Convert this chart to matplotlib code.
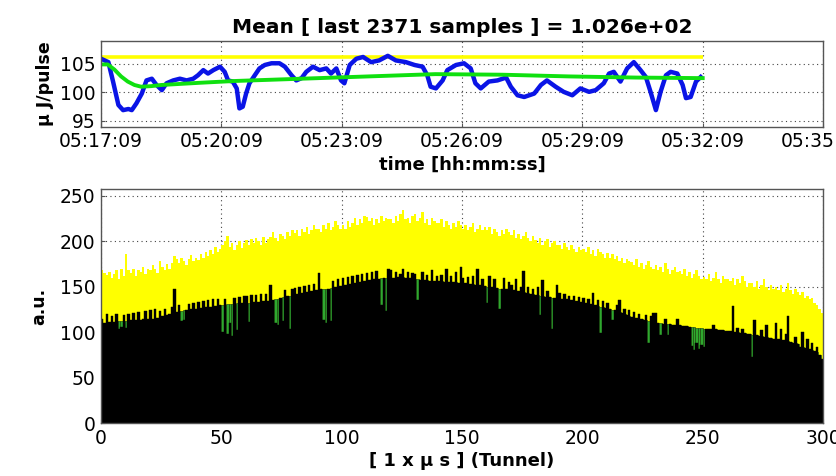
import numpy as np
import matplotlib
matplotlib.use('Agg')
import matplotlib.pyplot as plt

# ---- top panel: pulse energy vs time (seconds after 05:17:09) ----
time_ticks = [0, 180, 360, 540, 720, 900, 1080]
time_labels = ['05:17:09', '05:20:09', '05:23:09', '05:26:09',
               '05:29:09', '05:32:09', '05:35:09']

t_pulse = [0, 11, 18, 26, 33, 41, 46, 53, 61, 68, 76, 83, 91, 98, 108, 118,
           128, 138, 145, 153, 160, 168, 178, 185, 190, 197, 203, 207, 212,
           217, 222, 230, 237, 245, 255, 267, 275, 285, 292, 300, 307, 317,
           327, 337, 344, 352, 359, 364, 372, 382, 392, 404, 416, 429, 441,
           456, 469, 481, 488, 493, 501, 511, 518, 531, 543, 553, 560, 568,
           580, 593, 606, 613, 623, 633, 648, 658, 667, 680, 692, 705, 717,
           730, 740, 752, 760, 767, 777, 787, 797, 807, 815, 822, 830, 837,
           845, 852, 862, 870, 875, 882, 890, 897]
pulse = [105.9, 105.3, 101.9, 97.8, 96.9, 97.1, 96.9, 98.1, 99.8, 102.1,
         102.4, 101.3, 100.4, 101.6, 102.1, 102.4, 102.1, 102.4, 103.0, 103.9,
         103.3, 103.9, 104.5, 103.6, 102.1, 101.9, 100.7, 97.2, 97.5, 99.8,
         101.6, 103.0, 104.2, 104.8, 105.1, 105.1, 104.5, 103.0, 102.1, 102.5,
         103.6, 104.5, 103.9, 104.2, 103.3, 104.2, 102.1, 101.6, 104.8, 105.9,
         106.2, 105.3, 105.6, 106.4, 105.6, 105.3, 104.8, 104.5, 103.0, 101.0,
         100.7, 102.1, 103.9, 104.8, 105.1, 104.2, 101.6, 100.7, 101.9, 102.1,
         102.6, 101.0, 99.5, 99.2, 99.8, 101.3, 102.1, 101.0, 100.1, 99.5,
         100.7, 100.1, 100.4, 101.6, 103.3, 103.6, 101.9, 104.2, 105.3, 103.9,
         102.7, 100.1, 96.9, 100.1, 103.0, 103.6, 103.3, 101.3, 99.0, 99.2,
         101.9, 102.7]

t_mean = [0, 10, 20, 30, 40, 50, 60, 75, 90, 120, 150, 200, 250, 300, 400,
          500, 600, 700, 800, 900]
running_mean = [104.9, 104.9, 104.0, 102.8, 101.9, 101.3, 101.0, 101.1,
                101.3, 101.5, 101.7, 102.0, 102.2, 102.4, 102.8, 103.2,
                103.1, 102.8, 102.6, 102.5]

t_limit = [0, 900]
limit = [106.2, 106.2]

# ---- bottom panel: 300 bins of 1 us ----
bins = np.arange(300)

max_level = [
    168, 165, 163, 166, 160, 164, 168, 158, 170, 162,
    186, 168, 165, 170, 162, 168, 166, 172, 164, 170,
    168, 174, 170, 165, 178, 172, 168, 175, 170, 176,
    184, 180, 176, 182, 178, 174, 180, 185, 178, 182,
    179, 186, 182, 188, 184, 190, 186, 194, 188, 192,
    196, 200, 206, 194, 198, 190, 196, 200, 193, 198,
    201, 196, 202, 198, 204, 200, 196, 205, 198, 202,
    205, 210, 204, 200, 208, 206, 202, 210, 206, 212,
    209, 212, 206, 214, 210, 216, 208, 212, 218, 214,
    214, 210, 218, 214, 220, 212, 216, 222, 218, 214,
    218, 214, 222, 216, 220, 226, 218, 224, 220, 228,
    227, 222, 226, 218, 224, 220, 228, 222, 226, 224,
    225, 220, 228, 222, 230, 234, 224, 226, 220, 228,
    230, 222, 226, 232, 220, 224, 218, 226, 222, 220,
    220, 224, 216, 222, 218, 214, 220, 216, 222, 218,
    214, 218, 212, 216, 220, 210, 214, 218, 212, 216,
    212, 216, 208, 214, 210, 206, 212, 208, 214, 210,
    207, 212, 204, 208, 202, 206, 210, 204, 200, 206,
    201, 198, 204, 196, 200, 202, 194, 198, 200, 196,
    196, 192, 198, 194, 190, 196, 192, 188, 194, 190,
    192, 188, 194, 186, 190, 184, 192, 188, 186, 182,
    187, 182, 186, 180, 184, 178, 182, 176, 180, 178,
    177, 174, 180, 172, 176, 170, 174, 178, 172, 170,
    174, 168, 172, 166, 176, 170, 164, 168, 172, 166,
    167, 164, 170, 162, 166, 160, 164, 168, 162, 158,
    161, 158, 164, 156, 160, 166, 158, 154, 162, 158,
    159, 156, 160, 152, 158, 154, 162, 156, 150, 154,
    154, 150, 156, 148, 152, 158, 150, 146, 152, 148,
    150, 146, 152, 144, 148, 154, 146, 142, 148, 144,
    141, 144, 138, 140, 136, 138, 132, 130, 126, 121]

ref_level = [
    108, 110, 110, 111, 111, 111, 112, 112, 112, 112,
    112, 112, 113, 113, 113, 113, 113, 114, 114, 114,
    114, 115, 115, 116, 117, 118, 118, 119, 120, 121,
    122, 122, 123, 123, 124, 124, 125, 125, 126, 126,
    126, 127, 127, 128, 128, 128, 129, 129, 130, 130,
    130, 130, 131, 131, 131, 131, 132, 132, 132, 132,
    132, 132, 133, 133, 133, 133, 134, 134, 134, 134,
    134, 135, 136, 137, 138, 139, 139, 140, 140, 141,
    141, 142, 142, 143, 143, 144, 144, 145, 145, 146,
    146, 147, 147, 148, 148, 149, 149, 150, 150, 151,
    152, 152, 153, 153, 154, 154, 155, 155, 156, 156,
    157, 157, 158, 158, 159, 159, 160, 160, 160, 161,
    160, 160, 161, 161, 161, 161, 160, 160, 160, 159,
    158, 158, 157, 157, 157, 157, 156, 156, 156, 156,
    156, 156, 155, 155, 155, 155, 155, 155, 154, 154,
    154, 154, 153, 153, 153, 152, 152, 152, 151, 151,
    150, 150, 150, 149, 149, 148, 148, 147, 147, 147,
    146, 146, 145, 145, 144, 144, 143, 143, 142, 142,
    141, 141, 140, 140, 139, 139, 139, 138, 138, 137,
    137, 137, 136, 136, 135, 135, 134, 134, 133, 133,
    132, 132, 131, 131, 130, 130, 129, 128, 128, 127,
    126, 125, 124, 124, 123, 122, 121, 120, 119, 118,
    117, 116, 116, 115, 114, 113, 113, 112, 111, 111,
    110, 110, 110, 109, 109, 109, 109, 108, 108, 108,
    108, 107, 107, 107, 106, 106, 106, 105, 105, 105,
    104, 104, 104, 103, 103, 103, 102, 102, 102, 101,
    101, 101, 100, 100, 100, 99, 99, 99, 98, 98,
    97, 97, 97, 96, 96, 95, 95, 94, 94, 93,
    92, 92, 91, 91, 90, 90, 89, 88, 88, 87,
    84, 84, 83, 82, 81, 80, 79, 78, 75, 71]

last_level = [
    115, 110, 120, 111, 118, 111, 120, 104, 106, 119,
    105, 120, 113, 121, 113, 122, 113, 114, 123, 114,
    124, 115, 125, 116, 123, 118, 126, 119, 120, 128,
    148, 122, 130, 112, 113, 124, 131, 125, 132, 126,
    133, 127, 134, 128, 135, 128, 136, 129, 137, 130,
    100, 137, 98, 110, 96, 138, 102, 139, 132, 140,
    140, 111, 141, 133, 141, 133, 142, 134, 142, 134,
    152, 135, 110, 108, 138, 112, 146, 140, 104, 148,
    149, 142, 150, 143, 151, 144, 152, 145, 153, 146,
    165, 147, 113, 110, 148, 112, 156, 150, 158, 151,
    160, 152, 161, 153, 162, 154, 163, 155, 164, 156,
    165, 157, 166, 158, 167, 159, 130, 160, 123, 169,
    168, 160, 166, 161, 164, 170, 160, 166, 160, 165,
    164, 135, 157, 166, 157, 163, 156, 168, 156, 162,
    156, 163, 155, 170, 155, 162, 155, 166, 154, 172,
    160, 154, 161, 153, 162, 152, 170, 152, 158, 151,
    132, 162, 150, 158, 149, 126, 148, 160, 147, 155,
    152, 146, 158, 145, 150, 167, 143, 150, 142, 148,
    141, 150, 119, 157, 139, 145, 139, 104, 138, 152,
    143, 137, 142, 136, 140, 135, 140, 134, 139, 133,
    138, 132, 136, 131, 143, 130, 135, 99, 134, 127,
    132, 125, 113, 124, 130, 135, 121, 126, 119, 124,
    117, 122, 116, 120, 114, 113, 119, 88, 118, 121,
    121, 110, 97, 109, 115, 97, 109, 108, 108, 114,
    108, 107, 107, 107, 106, 85, 80, 88, 82, 86,
    84, 104, 104, 103, 108, 103, 102, 102, 102, 101,
    101, 101, 129, 100, 105, 99, 104, 99, 98, 98,
    73, 113, 97, 96, 102, 95, 108, 94, 94, 93,
    110, 92, 104, 91, 98, 118, 89, 88, 95, 87,
    84, 100, 83, 92, 81, 88, 79, 84, 75, 71]

plt.rcParams['font.family'] = ['DejaVu Sans']

fig = plt.figure(figsize=(8.37, 4.76), dpi=100)

frame_col = '#555555'
grid_kw = dict(color='#444444', linestyle=(0, (1, 3)), linewidth=0.8)

# top axes
ax1 = fig.add_axes([0.1207, 0.7338, 0.8626, 0.1801])
ax1.plot(t_limit, limit, color='#ffff00', linewidth=2.6, solid_capstyle='butt')
ax1.plot(t_pulse, pulse, color='#0a14e6', linewidth=3.2)
ax1.plot(t_mean, running_mean, color='#10e010', linewidth=2.8)
ax1.set_xlim(0, 1080)
ax1.set_ylim(94, 109)
ax1.set_xticks(time_ticks)
ax1.set_xticklabels(time_labels)
ax1.set_yticks([95, 100, 105])
ax1.grid(True, **grid_kw)
ax1.set_title('Mean [ last 2371 samples ] = 1.026e+02',
              fontsize=14.5, fontweight='bold', pad=6)
ax1.set_xlabel('time [hh:mm:ss]', fontsize=13, fontweight='bold', labelpad=3)
ax1.set_ylabel('µ J/pulse', fontsize=12.5, fontweight='bold', labelpad=4)

# bottom axes
ax2 = fig.add_axes([0.1207, 0.1113, 0.8626, 0.4906])
ax2.set_axisbelow(True)
ax2.bar(bins + 0.5, max_level, width=1.0, color='#ffff00', linewidth=0)
ax2.bar(bins + 0.5, ref_level, width=1.0, color='#2fa82f',
        edgecolor='#103810', linewidth=0.4)
ax2.bar(bins + 0.5, last_level, width=1.0, color='black',
        edgecolor='black', linewidth=0.3)
ax2.set_xlim(0, 300)
ax2.set_ylim(0, 257)
ax2.set_xticks([0, 50, 100, 150, 200, 250, 300])
ax2.set_yticks([0, 50, 100, 150, 200, 250])
ax2.grid(True, **grid_kw)
ax2.set_xlabel('[ 1 x µ s ] (Tunnel)', fontsize=13, fontweight='bold',
               labelpad=3)
ax2.set_ylabel('a.u.', fontsize=12.5, fontweight='bold', labelpad=8)

for ax in (ax1, ax2):
    for s in ax.spines.values():
        s.set_color(frame_col)
        s.set_linewidth(1.0)
    ax.tick_params(direction='in', length=3, labelsize=13.5, color=frame_col,
                   pad=4)

fig.savefig('out.png', dpi=100)
